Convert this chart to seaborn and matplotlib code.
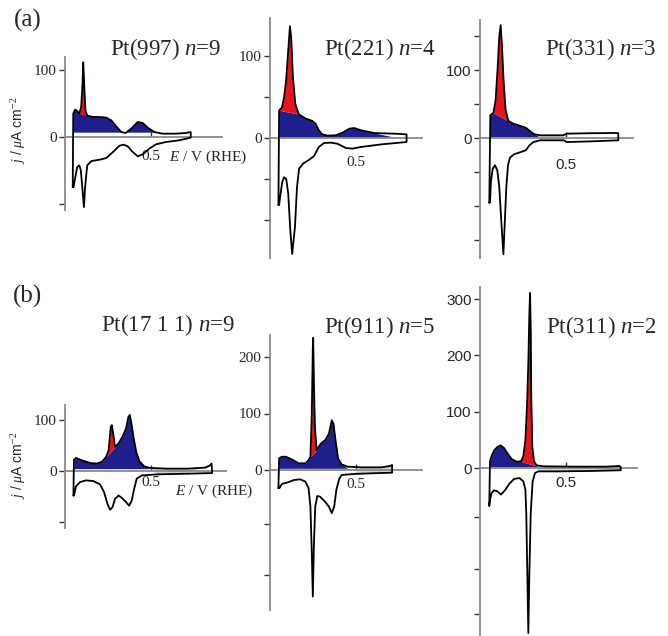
import numpy as np
import matplotlib
matplotlib.use("Agg")
import matplotlib.pyplot as plt
import seaborn as sns

# ---- data: E in V (RHE), j in uA cm-2 ----
# Pt(997) n=9
e_an_997 = [0.045, 0.048, 0.058, 0.067, 0.083, 0.094, 0.102, 0.106, 0.112, 0.119, 0.129, 0.163, 0.202,
            0.240, 0.269, 0.298, 0.327, 0.352, 0.385, 0.423, 0.452, 0.481, 0.519, 0.567, 0.644, 0.702, 0.731]
j_an_997 = [-75, 35, 41, 40, 35, 45, 80, 112, 75, 40, 32, 30, 30,
            29, 25, 16, 7.5, 6, 12.5, 22.5, 21, 14, 7.5, 5, 5, 6, 7.5]
e_ca_997 = [0.731, 0.663, 0.587, 0.529, 0.490, 0.452, 0.423, 0.394, 0.365, 0.340, 0.317, 0.279, 0.240,
            0.202, 0.154, 0.129, 0.117, 0.110, 0.102, 0.092, 0.083, 0.071, 0.060, 0.050]
j_ca_997 = [-1, -5, -7.5, -11, -17.5, -26, -29, -22.5, -14, -11.5, -13, -22.5, -31.5,
            -34, -36, -42.5, -75, -105, -80, -50, -42.5, -45, -60, -75]

# Pt(221) n=4
e_an_221 = [0.049, 0.053, 0.069, 0.082, 0.094, 0.106, 0.116, 0.124, 0.133, 0.147, 0.167, 0.206, 0.245,
            0.265, 0.284, 0.304, 0.333, 0.382, 0.422, 0.461, 0.490, 0.529, 0.608, 0.725, 0.794]
j_an_221 = [-82, 34, 37, 50, 71, 107, 137, 120, 75, 42, 29, 24, 21,
            17.5, 9.4, 4.5, 3, 3.3, 6.5, 11.4, 12.2, 9.4, 6, 5.3, 4.5]
e_ca_221 = [0.794, 0.647, 0.529, 0.480, 0.441, 0.392, 0.353, 0.314, 0.284, 0.255, 0.225, 0.192, 0.169,
            0.157, 0.145, 0.129, 0.118, 0.106, 0.094, 0.082, 0.071, 0.059, 0.053]
j_ca_221 = [-4.9, -7.8, -11, -13, -12.2, -7, -5.7, -6.1, -11, -22.4, -27, -31.4, -37.6,
            -60, -109, -142, -113, -68, -50, -48, -54, -72, -82]

# Pt(331) n=3
e_an_331 = [0.054, 0.060, 0.078, 0.091, 0.103, 0.112, 0.120, 0.128, 0.138, 0.149, 0.165, 0.194, 0.233,
            0.267, 0.291, 0.316, 0.349, 0.484, 0.504, 0.640, 0.795, 0.804]
j_an_331 = [-95, 33.5, 37, 56, 105, 149, 166, 134, 80, 41, 25, 21, 18,
            15, 10, 5.4, 4, 4, 6.4, 7, 7.4, 7]
e_ca_331 = [0.804, 0.640, 0.504, 0.488, 0.349, 0.310, 0.287, 0.267, 0.233, 0.198, 0.174, 0.163, 0.153,
            0.143, 0.136, 0.126, 0.112, 0.101, 0.087, 0.074, 0.064, 0.058]
j_ca_331 = [-3.4, -5, -6, -3.4, -3.4, -6, -11, -18, -21, -24, -29, -40, -72,
            -131, -171, -131, -72, -48, -40, -45, -63, -95]

# Pt(17 1 1) n=9
e_an_1711 = [0.049, 0.052, 0.064, 0.097, 0.146, 0.184, 0.214, 0.239, 0.254, 0.266, 0.272, 0.280, 0.291,
             0.311, 0.336, 0.355, 0.369, 0.377, 0.386, 0.398, 0.414, 0.433, 0.460, 0.495, 0.592, 0.709,
             0.816, 0.841, 0.852]
j_an_1711 = [-48, 22, 25.7, 21, 15.8, 14.5, 17.8, 27.6, 40.8, 86.8, 90, 73.7, 47.4,
             54, 68.4, 83.5, 106.6, 110, 93.4, 67, 37.5, 19, 9.2, 6, 4.6, 4.6,
             6.6, 10.5, 14.5]
e_ca_1711 = [0.856, 0.709, 0.534, 0.447, 0.417, 0.402, 0.388, 0.373, 0.355, 0.330, 0.311, 0.291, 0.276,
             0.262, 0.247, 0.227, 0.204, 0.165, 0.122, 0.087, 0.064, 0.052]
j_ca_1711 = [-4, -5.3, -6.6, -8.6, -15, -35, -58, -68, -61, -52.6, -48, -54.6, -71,
             -76, -64.5, -41.4, -26.3, -19.7, -18.4, -21.7, -30, -48]

# Pt(911) n=5
e_an_911 = [0.049, 0.053, 0.069, 0.092, 0.127, 0.167, 0.206, 0.225, 0.235, 0.243, 0.249, 0.251, 0.255,
            0.261, 0.271, 0.294, 0.324, 0.343, 0.359, 0.369, 0.382, 0.396, 0.416, 0.451, 0.529, 0.647,
            0.696, 0.710]
j_an_911 = [-32, 20.6, 23.5, 23.5, 18.8, 11.8, 11.8, 17.6, 23.5, 100, 218, 234, 159,
            76.5, 35, 46, 54, 64.7, 88, 82, 50, 20.6, 10, 5.9, 4.7, 4.7,
            7, 8.8]
e_ca_911 = [0.710, 0.588, 0.490, 0.416, 0.402, 0.386, 0.373, 0.359, 0.343, 0.320, 0.290, 0.275, 0.263,
            0.255, 0.249, 0.243, 0.235, 0.224, 0.206, 0.176, 0.141, 0.098, 0.069, 0.055]
j_ca_911 = [-4.7, -5.9, -7, -8.8, -15.9, -35, -65, -76.5, -65, -56, -47, -46, -65,
            -135, -224, -147, -65, -32, -20.6, -16.5, -17.6, -22.4, -24.7, -32]

# Pt(311) n=2
e_an_311 = [0.054, 0.058, 0.068, 0.083, 0.101, 0.120, 0.140, 0.161, 0.184, 0.213, 0.238, 0.252, 0.264,
            0.273, 0.281, 0.287, 0.291, 0.295, 0.298, 0.304, 0.314, 0.329, 0.368, 0.543, 0.736, 0.810,
            0.818]
j_an_311 = [-67, 11.8, 22, 31.4, 37.3, 40.2, 35.5, 25.4, 16, 11.2, 11.8, 20.7, 50,
            109, 186, 275, 311, 245, 127, 38.5, 11.8, 4.7, 3, 2.4, 2.4, 3.6,
            1.8]
e_ca_311 = [0.818, 0.640, 0.446, 0.339, 0.320, 0.306, 0.295, 0.287, 0.281, 0.275, 0.269, 0.264, 0.252,
            0.229, 0.198, 0.171, 0.145, 0.122, 0.101, 0.081, 0.068, 0.058, 0.054]
j_ca_311 = [-4, -5.3, -6, -6, -8.9, -23.7, -80, -186, -293, -186, -80, -38.5, -23.7,
            -17.8, -19.5, -27.8, -39.6, -47.3, -41.4, -39.6, -44.4, -56, -67]

titles = ["Pt(997) $n$=9", "Pt(221) $n$=4", "Pt(331) $n$=3",
          "Pt(17 1 1) $n$=9", "Pt(911) $n$=5", "Pt(311) $n$=2"]
curves = [(e_an_997, j_an_997, e_ca_997, j_ca_997),
          (e_an_221, j_an_221, e_ca_221, j_ca_221),
          (e_an_331, j_an_331, e_ca_331, j_ca_331),
          (e_an_1711, j_an_1711, e_ca_1711, j_ca_1711),
          (e_an_911, j_an_911, e_ca_911, j_ca_911),
          (e_an_311, j_an_311, e_ca_311, j_ca_311)]
# split line under the red peak, blue base level and end, grey loop range
red_e = [(0.083, 0.129), (0.053, 0.167), (0.078, 0.165), (0.239, 0.291), (0.235, 0.271), (0.238, 0.314)]
red_j = [(35, 32), (34, 29), (37, 25), (27.6, 47.4), (23.5, 35), (11.8, 5)]
blue_base = [6.5, 1, 1.5, 4.6, 3, 2]
blue_end = [0.57, 0.61, 0.34, 0.49, 0.45, 0.33]
grey_rng = [None, None, (0.349, 0.488), (0.495, 0.852), (0.49, 0.71), (0.329, 0.818)]
yticks = [[100, 0, -100], [100, 50, 0, -50, -100], [150, 100, 50, 0, -50, -100, -150],
          [100, 0, -100], [200, 100, 0, -95, -185], [300, 200, 100, 0, -87, -180, -260]]
ylabels_on = [[100, 0], [100, 0], [100, 0], [100, 0], [200, 100, 0], [300, 200, 100, 0]]

# ---- layout in pixels ----
W, H = 668, 636
PX_V = 172.0
# spine x, axis right end, top, bottom, zero line y, px per uA, x label offset, tick font
boxes = [(65, 222, 57, 210, 137, 0.667, 20, "serif"),
         (270, 422, 18, 258, 138, 0.817, 25, "serif"),
         (480, 633, 20, 258, 138, 0.680, 27, "sans"),
         (65, 226, 405, 528, 471, 0.510, 12, "serif"),
         (270, 422, 335, 610, 470, 0.565, 15, "serif"),
         (480, 637, 287, 636, 468, 0.563, 15, "sans")]
title_xy = [(166, 49), (380, 49), (601, 49), (168, 325), (380, 327), (601, 327)]

BLUE = "#1e1f8c"
RED = "#e8141c"
GREY = "#d2d2d2"
SPINE = "#8a8a8a"

sns.set_theme(style="ticks")
plt.rcParams["font.family"] = ["Liberation Serif", "DejaVu Serif"]
plt.rcParams["mathtext.fontset"] = "custom"
plt.rcParams["mathtext.rm"] = "Liberation Serif"
plt.rcParams["mathtext.it"] = "Liberation Serif:italic"

fig = plt.figure(figsize=(W / 100, H / 100), dpi=100)

for i, (ea, ja, ec, jc) in enumerate(curves):
    x0, x1, top, bot, zero, k, xoff, tfont = boxes[i]
    ax = fig.add_axes([x0 / W, 1 - bot / H, (x1 - x0) / W, (bot - top) / H])
    ax.set_xlim(0, (x1 - x0) / PX_V)
    ax.set_ylim(-(bot - zero) / k, (zero - top) / k)

    E = np.array(ea)
    J = np.array(ja)
    m = (E >= red_e[i][0]) & (E <= red_e[i][1])
    split = np.where(m, np.interp(E, red_e[i], red_j[i]), J)
    blue_top = np.minimum(J, split)
    ax.fill_between(E, blue_base[i], blue_top, where=(E <= blue_end[i]) & (blue_top > blue_base[i]),
                    interpolate=True, color=BLUE, lw=0, zorder=1)
    ax.fill_between(E, split, J, where=m & (J >= split), interpolate=True, color=RED, lw=0, zorder=1)

    if grey_rng[i] is not None:
        lo, hi = grey_rng[i]
        Ec = np.array(ec)
        Jc = np.array(jc)
        sa = (E >= lo) & (E <= hi)
        sc = (Ec >= lo) & (Ec <= hi)
        ax.fill(np.r_[E[sa], Ec[sc]], np.r_[J[sa], Jc[sc]], color=GREY, lw=0, zorder=1)

    loop_x = list(ea) + list(ec) + [ea[0]]
    loop_y = list(ja) + list(jc) + [ja[0]]
    sns.lineplot(x=loop_x, y=loop_y, sort=False, estimator=None, color="black", lw=1.3, ax=ax, zorder=3)

    for s in ["top", "right"]:
        ax.spines[s].set_visible(False)
    ax.spines["left"].set_color(SPINE)
    ax.spines["left"].set_linewidth(1.3)
    ax.spines["bottom"].set_position(("data", 0))
    ax.spines["bottom"].set_color(SPINE)
    ax.spines["bottom"].set_linewidth(1.3)

    fam = ["Liberation Sans", "DejaVu Sans"] if tfont == "sans" else ["Liberation Serif", "DejaVu Serif"]
    ax.set_yticks(yticks[i])
    ax.set_yticklabels([str(t) if t in ylabels_on[i] else "" for t in yticks[i]], family=fam, fontsize=11)
    ax.set_xticks([0.5])
    ax.set_xticklabels(["0.5"], family=fam, fontsize=11)
    ax.tick_params(axis="y", direction="out", length=4, width=1, color="#333333", pad=2)
    ax.tick_params(axis="x", direction="in", length=4, width=1, color="#333333",
                   pad=(xoff - 7) * 0.72)
    ax.set_xlabel("")
    ax.set_ylabel("")

    tx, ty = title_xy[i]
    fig.text(tx / W, 1 - ty / H, titles[i], ha="center", va="center", fontsize=16.5,
             family=["Liberation Serif", "DejaVu Serif"])

# panel letters and axis labels
fig.text(28 / W, 1 - 20 / H, "(a)", ha="center", va="center", fontsize=18)
fig.text(28 / W, 1 - 296 / H, "(b)", ha="center", va="center", fontsize=18)
for yc in [130, 465]:
    fig.text(19 / W, 1 - yc / H, r"$j$ / $\mu$A cm$^{-2}$", rotation=90, ha="center", va="center",
             fontsize=10, family=["Liberation Sans", "DejaVu Sans"])
fig.text(169 / W, 1 - 157 / H, r"$E$ / V (RHE)", ha="left", va="center", fontsize=11)
fig.text(175 / W, 1 - 491 / H, r"$E$ / V (RHE)", ha="left", va="center", fontsize=11)

fig.savefig("out.png", dpi=100)
